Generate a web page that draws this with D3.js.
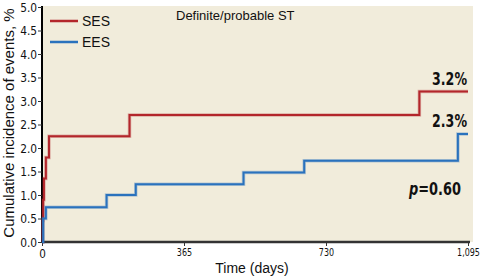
<!DOCTYPE html>
<html>
<head>
<meta charset="utf-8">
<script src="https://cdn.jsdelivr.net/npm/d3@7"></script>
<style>
  body { margin: 0; background: #fff; }
  svg { display: block; }
</style>
</head>
<body>
<script>
// data (days, cumulative %)
const sesDays = [0, 2, 3, 5, 10, 18, 225, 970, 1095];
const sesPct  = [0, 0.45, 0.9, 1.35, 1.8, 2.25, 2.7, 3.2, 3.2];
const eesDays = [0, 3, 10, 166, 241, 518, 674, 1069, 1095];
const eesPct  = [0, 0.5, 0.74, 1.0, 1.23, 1.48, 1.73, 2.3, 2.3];
const xTicks = [0, 365, 730, 1095];
const yTicks = [0, 0.5, 1, 1.5, 2, 2.5, 3, 3.5, 4, 4.5, 5];
const seriesNames = ["SES", "EES"];
const seriesColors = ["#b3262b", "#2a72bd"];
const endLabels = ["3.2%", "2.3%"];

const W = 481, H = 276;
const margin = {top: 7, right: 12, bottom: 34, left: 42};

const svg = d3.select("body").append("svg")
    .attr("width", W)
    .attr("height", H);

const g = svg.append("g")
    .attr("transform", "translate(" + margin.left + "," + margin.top + ")");

const x = d3.scaleLinear().domain([0, 1095]).range([0, 426]);
const y = d3.scaleLinear().domain([0, 5]).range([235, 0]);

const numFont = "'DejaVu Sans', sans-serif";
const txtFont = "'Liberation Sans', Arial, sans-serif";

// beige panel
g.append("rect")
    .attr("x", 0).attr("y", -1)
    .attr("width", 431).attr("height", 236)
    .attr("fill", "#f1ecdb");

// x axis
const xAxis = g.append("g")
    .attr("transform", "translate(0," + y(0) + ")")
    .call(d3.axisBottom(x).tickValues(xTicks).tickSize(4).tickPadding(3)
        .tickFormat(d => d3.format(",")(d)));
xAxis.select(".domain").attr("stroke", "#333").attr("stroke-width", 2.5)
    .attr("d", "M0,0H428");
xAxis.selectAll(".tick line").attr("stroke", "#333");
xAxis.selectAll("text")
    .attr("font-family", numFont).attr("font-size", 10).attr("fill", "#111")
    .attr("transform", "scale(0.8,1)");
xAxis.selectAll(".tick").filter(d => d === 0).select("text").attr("font-size", 13);

// y axis
const yAxis = g.append("g")
    .call(d3.axisLeft(y).tickValues(yTicks).tickSize(4).tickPadding(2)
        .tickFormat(d3.format(".1f")));
yAxis.select(".domain").attr("stroke", "#000").attr("stroke-width", 2)
    .attr("d", "M0,235V-1");
yAxis.selectAll(".tick line").attr("stroke", "#333");
yAxis.selectAll("text")
    .attr("font-family", numFont).attr("font-size", 13).attr("fill", "#111")
    .attr("transform", "scale(0.82,1)");

// step lines
const line = d3.line()
    .x(d => x(d[0]))
    .y(d => y(d[1]))
    .curve(d3.curveStepAfter);

const series = [
    d3.zip(sesDays, sesPct),
    d3.zip(eesDays, eesPct)
];

series.forEach(function (pts, i) {
    g.append("path")
        .datum(pts)
        .attr("d", line)
        .attr("fill", "none")
        .attr("stroke", seriesColors[i])
        .attr("stroke-opacity", 0.3)
        .attr("stroke-width", 3.5);
    g.append("path")
        .datum(pts)
        .attr("d", line)
        .attr("fill", "none")
        .attr("stroke", seriesColors[i])
        .attr("stroke-width", 2);
});

// end labels (squeezed to look like a condensed face)
series.forEach(function (pts, i) {
    const last = pts[pts.length - 1];
    g.append("text")
        .attr("transform", "translate(" + (x(last[0]) - 1) + "," + (y(last[1]) - 7) + ") scale(0.72,1)")
        .attr("text-anchor", "end")
        .attr("font-family", numFont)
        .attr("font-weight", "bold")
        .attr("font-size", 17.5)
        .attr("fill", "#111")
        .text(endLabels[i]);
});

// p value
const pText = g.append("text")
    .attr("transform", "translate(" + (x(1095) - 7) + ",188) scale(0.74,1)")
    .attr("text-anchor", "end")
    .attr("font-family", numFont)
    .attr("font-weight", "bold")
    .attr("font-size", 17.5)
    .attr("fill", "#111");
pText.append("tspan").attr("font-style", "italic").text("p");
pText.append("tspan").text("=0.60");

// legend
seriesNames.forEach(function (name, i) {
    const ly = 14 + i * 21;
    g.append("line")
        .attr("x1", 8).attr("x2", 36)
        .attr("y1", ly).attr("y2", ly)
        .attr("stroke", seriesColors[i])
        .attr("stroke-width", 2.5);
    g.append("text")
        .attr("x", 40).attr("y", ly + 5)
        .attr("font-family", txtFont)
        .attr("font-size", 14)
        .attr("fill", "#111")
        .text(name);
});

// title inside panel
g.append("text")
    .attr("x", 134).attr("y", 13)
    .attr("font-family", txtFont)
    .attr("font-size", 13)
    .attr("fill", "#111")
    .text("Definite/probable ST");

// axis titles
svg.append("text")
    .attr("x", 252).attr("y", 273)
    .attr("text-anchor", "middle")
    .attr("font-family", txtFont)
    .attr("font-size", 14)
    .attr("fill", "#111")
    .text("Time (days)");

svg.append("text")
    .attr("transform", "translate(14," + 123 + ") rotate(-90)")
    .attr("text-anchor", "middle")
    .attr("font-family", txtFont)
    .attr("font-size", 15)
    .attr("fill", "#111")
    .text("Cumulative incidence of events, %");
</script>
</body>
</html>
